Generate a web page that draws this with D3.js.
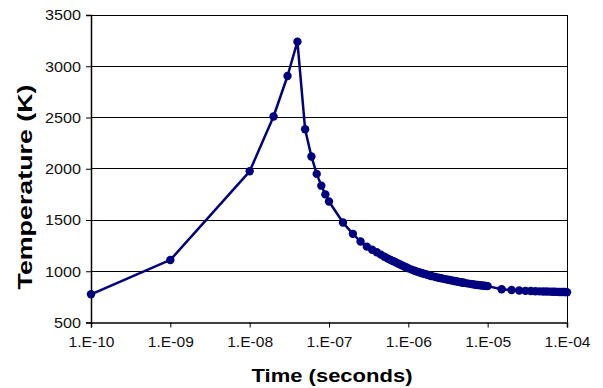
<!DOCTYPE html>
<html>
<head>
<meta charset="utf-8">
<script src="https://cdn.jsdelivr.net/npm/d3@7"></script>
<style>
  html, body { margin: 0; padding: 0; background: #fff; }
  svg { display: block; font-family: "Liberation Sans", Arial, sans-serif; }
</style>
</head>
<body>
<svg id="chart" width="603" height="388"></svg>
<script>
// ---- data (time in seconds, temperature in K) ----
const timeSec = [
  1e-10, 1e-9, 1e-8, 2e-8, 3e-8, 4e-8, 5e-8, 6e-8, 7e-8, 8e-8, 9e-8,
  1.0e-7, 1.5e-7, 2.0e-7, 2.5e-7, 3.0e-7, 3.5e-7, 4.0e-7, 4.5e-7, 5.0e-7,
  5.5e-7, 6.0e-7, 6.5e-7, 7.0e-7, 7.5e-7, 8.0e-7, 8.5e-7, 9.0e-7, 9.5e-7,
  1.0e-6, 1.1e-6, 1.2e-6, 1.3e-6, 1.4e-6, 1.5e-6, 1.6e-6, 1.7e-6, 1.8e-6, 1.9e-6,
  2.0e-6, 2.2e-6, 2.4e-6, 2.6e-6, 2.8e-6, 3.0e-6, 3.2e-6, 3.4e-6, 3.6e-6, 3.8e-6,
  4.0e-6, 4.2e-6, 4.4e-6, 4.6e-6, 4.8e-6, 5.0e-6, 5.5e-6, 6.0e-6, 6.5e-6, 7.0e-6,
  7.5e-6, 8.0e-6, 8.5e-6, 9.0e-6, 9.5e-6,
  1.0e-5, 1.5e-5, 2.0e-5, 2.5e-5, 3.0e-5, 3.5e-5, 4.0e-5, 4.5e-5, 5.0e-5,
  5.5e-5, 6.0e-5, 6.5e-5, 7.0e-5, 7.5e-5, 8.0e-5, 8.5e-5, 9.0e-5, 9.5e-5, 1.0e-4
];
const temperatureK = [
  775, 1110, 1975, 2510, 2905, 3240, 2385, 2120, 1950, 1835, 1750,
  1680, 1475, 1365, 1290, 1240, 1210, 1185, 1162, 1142,
  1125, 1110, 1097, 1085, 1074, 1064, 1054, 1044, 1036,
  1028, 1016, 1005, 996, 988, 981, 974, 968, 962, 957,
  952, 944, 937, 931, 926, 921, 917, 913, 909, 905,
  902, 899, 896, 893, 890, 888, 882, 877, 873, 869,
  866, 863, 861, 859, 857,
  855, 825, 817, 812, 809, 807, 805, 804, 803,
  802, 801, 800, 800, 799, 798, 798, 797, 797, 796
];
const xTickValues = [1e-10, 1e-9, 1e-8, 1e-7, 1e-6, 1e-5, 1e-4];
const xTickLabels = ["1.E-10", "1.E-09", "1.E-08", "1.E-07", "1.E-06", "1.E-05", "1.E-04"];
const yTickValues = [500, 1000, 1500, 2000, 2500, 3000, 3500];
const xTitle = "Time (seconds)";
const yTitle = "Temperature (K)";

// ---- layout ----
const svg = d3.select("#chart");
const plotLeft = 91, plotRight = 567, plotTop = 15, plotBottom = 322.5;

const x = d3.scaleLog().domain([1e-10, 1e-4]).range([plotLeft, plotRight]);
const y = d3.scaleLinear().domain([500, 3500]).range([plotBottom, plotTop]);

// gridlines
svg.append("g")
  .selectAll("line")
  .data(yTickValues.slice(1))
  .join("line")
  .attr("x1", plotLeft).attr("x2", plotRight)
  .attr("y1", d => y(d)).attr("y2", d => y(d))
  .attr("stroke", "#000").attr("stroke-width", 1)
  .attr("shape-rendering", "crispEdges");

// right border
svg.append("line")
  .attr("x1", plotRight).attr("x2", plotRight).attr("y1", plotTop).attr("y2", plotBottom)
  .attr("stroke", "#000").attr("stroke-width", 1)
  .attr("shape-rendering", "crispEdges");

// y axis
const yAxis = svg.append("g")
  .attr("transform", `translate(${plotLeft},0)`)
  .call(d3.axisLeft(y).tickValues(yTickValues).tickFormat(d3.format("d")).tickSize(5).tickPadding(5));
yAxis.select(".domain").attr("stroke", "#000").attr("stroke-width", 1.5);
yAxis.selectAll(".tick line").attr("stroke", "#000").attr("stroke-width", 1);
yAxis.selectAll("text")
  .attr("font-size", 15).attr("fill", "#111")
  .attr("font-family", "Liberation Sans, Arial, sans-serif")
  .attr("textLength", d => String(d).length * 9)
  .attr("lengthAdjust", "spacingAndGlyphs");

// x axis
const xAxis = svg.append("g")
  .attr("transform", `translate(0,${plotBottom})`)
  .call(d3.axisBottom(x).tickValues(xTickValues)
    .tickFormat((d, i) => xTickLabels[i]).tickSize(5).tickPadding(9));
xAxis.select(".domain").attr("stroke", "#000").attr("stroke-width", 1.5);
xAxis.selectAll(".tick line").attr("stroke", "#000").attr("stroke-width", 1);
xAxis.selectAll("text")
  .attr("font-size", 15).attr("fill", "#111")
  .attr("font-family", "Liberation Sans, Arial, sans-serif")
  .attr("textLength", 46)
  .attr("lengthAdjust", "spacingAndGlyphs");

// data
const data = timeSec.map((t, i) => ({ t, v: temperatureK[i] }));
const line = d3.line().x(d => x(d.t)).y(d => y(d.v));
svg.append("path")
  .datum(data)
  .attr("d", line)
  .attr("fill", "none")
  .attr("stroke", "#000080")
  .attr("stroke-width", 2.5)
  .attr("stroke-linejoin", "round");
svg.append("g")
  .selectAll("circle")
  .data(data)
  .join("circle")
  .attr("cx", d => x(d.t))
  .attr("cy", d => y(d.v))
  .attr("r", 4.2)
  .attr("fill", "#000080");

// titles
svg.append("text")
  .attr("x", (plotLeft + plotRight) / 2 + 3)
  .attr("y", 382)
  .attr("text-anchor", "middle")
  .attr("font-size", 18).attr("font-weight", "bold").attr("fill", "#000")
  .attr("textLength", 161).attr("lengthAdjust", "spacingAndGlyphs")
  .text(xTitle);

svg.append("text")
  .attr("transform", "translate(32,187) rotate(-90)")
  .attr("text-anchor", "middle")
  .attr("font-size", 20).attr("font-weight", "bold").attr("fill", "#000")
  .attr("textLength", 205).attr("lengthAdjust", "spacingAndGlyphs")
  .text(yTitle);
</script>
</body>
</html>
